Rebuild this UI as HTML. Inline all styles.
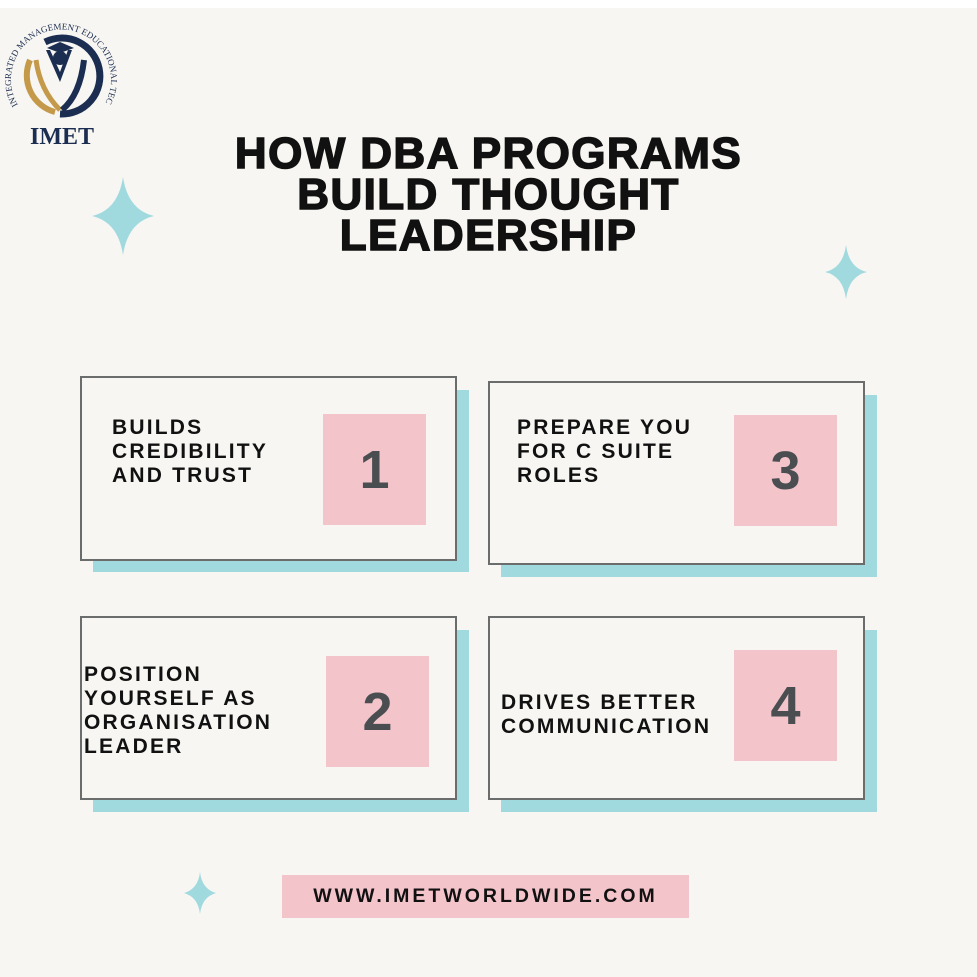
<!DOCTYPE html>
<html><head><style>
body{margin:0;width:977px;height:977px;background:#f7f6f2;position:relative;overflow:hidden;font-family:"Liberation Sans",Arial,sans-serif}
.a{position:absolute}
.sh{position:absolute;background:#a0dadf}
.bx{position:absolute;border:2px solid #6b6d6c;background:#f7f6f2;box-sizing:border-box}
.pk{position:absolute;background:#f4c4cb;color:#4b4e51;font-weight:bold;font-size:54px;display:flex;align-items:center;justify-content:center}
.tx{position:absolute;font-weight:bold;font-size:21px;letter-spacing:2.2px;line-height:24px;color:#111}
h1{position:absolute;left:0;width:977px;top:133px;margin:0;text-align:center;font-size:44px;line-height:41px;font-weight:900;color:#111;letter-spacing:1.4px;-webkit-text-stroke:1.5px #111}
</style></head><body>
<div class="a" style="left:0;top:0;width:977px;height:8px;background:#fff"></div>
<svg class="a" style="left:0;top:0" width="140" height="160" viewBox="0 0 140 160">
<defs><path id="rp" d="M18 105 A50 50 0 1 1 104 105"/></defs>
<text font-family="Liberation Serif,serif" font-size="9" fill="#1b2d50"><textPath href="#rp">INTEGRATED MANAGEMENT EDUCATIONAL TECHNOLOGY</textPath></text>
<path d="M30 60 A38 38 0 0 0 55 112" stroke="#c49a4a" stroke-width="6" fill="none"/>
<path d="M45 42 A38 38 0 1 1 60 114" stroke="#1b2d50" stroke-width="7" fill="none"/>
<path d="M46 50 L60 82 L72 50 L68 50 L60 72 L50 50Z" fill="#1b2d50"/>
<circle cx="60" cy="58" r="7" fill="#1b2d50"/>
<path d="M47 48 L60 42 L74 48 L60 53Z" fill="#1b2d50"/>
<path d="M36 60 Q40 90 60 110" stroke="#c49a4a" stroke-width="5" fill="none"/>
<path d="M84 60 Q80 95 62 110" stroke="#1b2d50" stroke-width="6" fill="none"/>
<text x="62" y="144" text-anchor="middle" font-family="Liberation Serif,serif" font-weight="bold" font-size="24" fill="#1b2d50">IMET</text>
</svg>
<h1>HOW DBA PROGRAMS<br>BUILD THOUGHT<br>LEADERSHIP</h1>
<svg class="a" style="left:0;top:0" width="977" height="977">
<path d="M123 177 Q128 210 154 216 Q128 222 123 255 Q118 222 92 216 Q118 210 123 177Z" fill="#a0dadf"/>
<path d="M846 245 Q849 268 867 272 Q849 276 846 299 Q843 276 825 272 Q843 268 846 245Z" fill="#a0dadf"/>
<path d="M200 872 Q202 889 216 893 Q202 897 200 914 Q198 897 184 893 Q198 889 200 872Z" fill="#a0dadf"/>
</svg>
<div class="sh" style="left:93px;top:390px;width:376px;height:182px"></div>
<div class="bx" style="left:80px;top:376px;width:377px;height:185px"></div>
<div class="pk" style="left:323px;top:414px;width:103px;height:111px">1</div>
<div class="tx" style="left:112px;top:416px">BUILDS<br>CREDIBILITY<br>AND TRUST</div>

<div class="sh" style="left:501px;top:395px;width:376px;height:182px"></div>
<div class="bx" style="left:488px;top:381px;width:377px;height:184px"></div>
<div class="pk" style="left:734px;top:415px;width:103px;height:111px">3</div>
<div class="tx" style="left:517px;top:416px">PREPARE YOU<br>FOR C SUITE<br>ROLES</div>

<div class="sh" style="left:93px;top:630px;width:376px;height:182px"></div>
<div class="bx" style="left:80px;top:616px;width:377px;height:184px"></div>
<div class="pk" style="left:326px;top:656px;width:103px;height:111px">2</div>
<div class="tx" style="left:84px;top:663px">POSITION<br>YOURSELF AS<br>ORGANISATION<br>LEADER</div>

<div class="sh" style="left:501px;top:630px;width:376px;height:182px"></div>
<div class="bx" style="left:488px;top:616px;width:377px;height:184px"></div>
<div class="pk" style="left:734px;top:650px;width:103px;height:111px">4</div>
<div class="tx" style="left:501px;top:691px">DRIVES BETTER<br>COMMUNICATION</div>

<div class="a" style="left:282px;top:875px;width:407px;height:43px;background:#f4c4cb;display:flex;align-items:center;justify-content:center;font-weight:bold;font-size:19.5px;letter-spacing:3px;color:#111">WWW.IMETWORLDWIDE.COM</div>
</body></html>
